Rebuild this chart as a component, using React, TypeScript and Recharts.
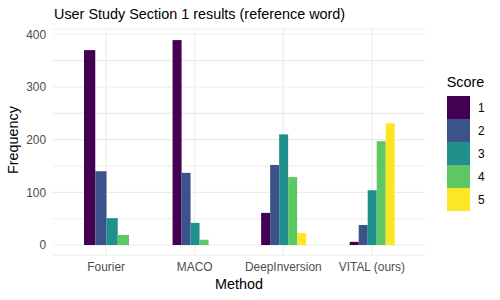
import React from 'react';
import { BarChart, Bar, XAxis, YAxis, CartesianGrid } from 'recharts';

const methods = ['Fourier', 'MACO', 'DeepInversion', 'VITAL (ours)'];
const scoreLabels = ['1', '2', '3', '4', '5'];
const scoreColors = ['#440154', '#3B528B', '#21908C', '#5DC863', '#FDE725'];
const score1 = [370, 389, 61, 6];
const score2 = [140, 137, 152, 38];
const score3 = [51, 42, 210, 104];
const score4 = [19, 10, 129, 197];
const score5: (number | null)[] = [null, 0, 23, 231];
const seriesValues = [score1, score2, score3, score4, score5];
const yTicks = [0, 50, 100, 150, 200, 250, 300, 350, 400];
const yLabelTicks = [0, 100, 200, 300, 400];

const data = methods.map((m, i) => {
  const row: Record<string, any> = { method: m };
  scoreLabels.forEach((s, k) => {
    row['s' + s] = seriesValues[k][i];
  });
  return row;
});

const FONT = '"Liberation Sans", Arial, sans-serif';
const W = 500;
const H = 300;
const XPAD = 8.86;

// dodge like ggplot: categories with fewer present scores get wider bars
const makeShape = (k: number) => (props: any) => {
  const { x, y, width, height, fill, payload } = props;
  if (x == null || width == null || height == null) return <g />;
  const present = scoreLabels
    .map((s) => payload['s' + s])
    .map((v) => v !== null && v !== undefined);
  const n = present.filter(Boolean).length;
  const rank = present.slice(0, k).filter(Boolean).length;
  const x0 = x - k * width;
  const w = (width * scoreLabels.length) / n;
  const nx = x0 + rank * w;
  const h = Math.abs(height);
  const ty = height < 0 ? y + height : y;
  return <rect x={nx} y={ty} width={w} height={h} fill={fill} />;
};

// vertical grid only at category centres (via the x axis' own scale)
const verticalGen = (args: any) => {
  const { xAxis, offset } = args;
  const sc = xAxis && xAxis.scale;
  if (sc && typeof sc === 'function' && typeof sc.bandwidth === 'function') {
    return methods.map((m) => sc(m) + sc.bandwidth() / 2);
  }
  const left = offset.left + XPAD;
  const band = (offset.width - 2 * XPAD) / methods.length;
  return methods.map((_, i) => left + (i + 0.5) * band);
};

const XTick = (props: any) => {
  const { x, y, payload } = props;
  return (
    <text x={x} y={y + 15.5} textAnchor="middle" fontSize={11.9} fill="#4D4D4D" fontFamily={FONT}>
      {payload.value}
    </text>
  );
};

const YTick = (props: any) => {
  const { x, y, payload } = props;
  if (!yLabelTicks.includes(payload.value)) return <g />;
  return (
    <text x={x} y={y + 4.2} textAnchor="end" fontSize={11.9} fill="#4D4D4D" fontFamily={FONT}>
      {payload.value}
    </text>
  );
};

export default function App() {
  return (
    <div style={{ position: 'absolute', left: 0, top: 0, width: W, height: H, background: '#fff' }}>
      <BarChart
        width={W}
        height={H}
        data={data}
        margin={{ top: 29.3, right: 75, bottom: 24.7, left: 0 }}
        barCategoryGap="25%"
        barGap={0}
      >
        <CartesianGrid
          stroke="#EBEBEB"
          strokeWidth={1.1}
          verticalCoordinatesGenerator={verticalGen}
        />
        <XAxis
          dataKey="method"
          height={20}
          axisLine={false}
          tickLine={false}
          tickSize={0}
          tickMargin={0}
          padding={{ left: XPAD, right: XPAD }}
          tick={<XTick />}
          interval={0}
        />
        <YAxis
          type="number"
          width={53}
          domain={[-19.5, 409.5]}
          ticks={yTicks}
          axisLine={false}
          tickLine={false}
          tickSize={0}
          tickMargin={7}
          tick={<YTick />}
          interval={0}
          allowDataOverflow
        />
        {scoreLabels.map((s, k) => (
          <Bar
            key={s}
            dataKey={'s' + s}
            name={s}
            fill={scoreColors[k]}
            isAnimationActive={false}
            shape={makeShape(k)}
          />
        ))}
      </BarChart>
      <svg
        width={W}
        height={H}
        style={{ position: 'absolute', left: 0, top: 0, pointerEvents: 'none' }}
      >
        <text x={54} y={18.5} fontSize={14.4} fill="#000" fontFamily={FONT}>
          User Study Section 1 results (reference word)
        </text>
        <text x={239} y={289.3} fontSize={14.4} textAnchor="middle" fill="#000" fontFamily={FONT}>
          Method
        </text>
        <text
          x={0}
          y={0}
          fontSize={14.4}
          textAnchor="middle"
          fill="#000"
          fontFamily={FONT}
          transform="translate(17.5,140) rotate(-90)"
        >
          Frequency
        </text>
        <text x={446.7} y={86.7} fontSize={14.4} fill="#000" fontFamily={FONT}>
          Score
        </text>
        {scoreLabels.map((s, k) => (
          <g key={s}>
            <rect x={447} y={96 + 23 * k} width={23} height={23} fill={scoreColors[k]} />
            <text x={478} y={96 + 23 * k + 15.8} fontSize={11.9} fill="#000" fontFamily={FONT}>
              {s}
            </text>
          </g>
        ))}
      </svg>
    </div>
  );
}
